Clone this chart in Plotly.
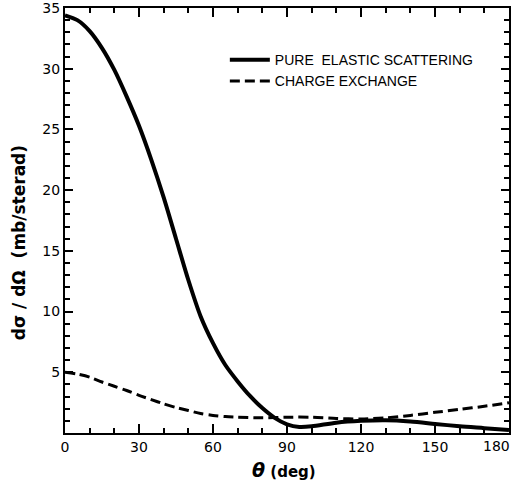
import plotly.graph_objects as go

theta_elastic = [0, 5, 10, 15, 20, 25, 30, 35, 40, 45, 50, 55, 60, 65, 70, 75, 80, 85, 90, 95, 100, 110, 120, 130, 140, 150, 160, 170, 180]
elastic = [34.4, 34.0, 33.1, 31.7, 29.9, 27.7, 25.3, 22.5, 19.4, 16.0, 12.6, 9.6, 7.4, 5.6, 4.25, 3.05, 2.05, 1.25, 0.72, 0.5, 0.55, 0.85, 1.0, 1.05, 0.95, 0.75, 0.55, 0.4, 0.25]

theta_cex = [0, 5, 10, 15, 20, 25, 30, 35, 40, 45, 50, 55, 60, 65, 70, 80, 90, 100, 110, 120, 130, 140, 150, 160, 170, 180]
cex = [5.0, 4.85, 4.6, 4.2, 3.85, 3.5, 3.1, 2.75, 2.4, 2.1, 1.85, 1.6, 1.45, 1.35, 1.3, 1.25, 1.3, 1.3, 1.2, 1.15, 1.25, 1.45, 1.7, 1.95, 2.2, 2.5]

x_ticks = [0, 30, 60, 90, 120, 150, 180]
x_tick_labels = ["0", "30", "60", "90", "120", "150", "180"]
y_ticks = [5, 10, 15, 20, 25, 30, 35]
y_tick_labels = ["5", "10", "15", "20", "25", "30", "35"]

tick_font = dict(family="DejaVu Sans", size=14, color="black")

fig = go.Figure()
fig.add_trace(go.Scatter(x=theta_elastic, y=elastic, mode="lines", name="PURE  ELASTIC SCATTERING",
                         line=dict(color="black", width=4, shape="spline", smoothing=0.8)))
fig.add_trace(go.Scatter(x=theta_cex, y=cex, mode="lines", name="CHARGE EXCHANGE",
                         line=dict(color="black", width=3, shape="spline", smoothing=0.8, dash="10px,5px")))

axis_common = dict(showgrid=False, zeroline=False, showline=True, linecolor="black", linewidth=2,
                   mirror="allticks", ticks="inside", tickcolor="black", tickwidth=2,
                   ticklabeloverflow="allow", automargin=False, tickfont=tick_font)

# the last x label sits against the right edge, so it is drawn right-aligned at its tick
fig.update_xaxes(range=[0, 180], tickvals=x_ticks, ticktext=x_tick_labels[:-1] + [""], ticklen=9,
                 minor=dict(dtick=10, ticks="inside", ticklen=5, tickwidth=2, tickcolor="black"),
                 **axis_common)
fig.update_yaxes(range=[0, 35], tickvals=y_ticks, ticktext=y_tick_labels, ticklen=8,
                 minor=dict(dtick=1, ticks="inside", ticklen=5, tickwidth=2, tickcolor="black"),
                 **axis_common)

fig.add_annotation(text=x_tick_labels[-1], xref="x", yref="paper", x=x_ticks[-1], y=-0.031,
                   xanchor="right", yanchor="middle", xshift=3, showarrow=False, font=tick_font)

fig.add_annotation(text="<b>dσ / dΩ  (mb/sterad)</b>", xref="paper", yref="paper",
                   x=-0.103, y=0.447, xanchor="center", yanchor="middle", textangle=-90, showarrow=False,
                   font=dict(family="DejaVu Sans", size=17, color="black"))
fig.add_annotation(text="<b><i><span style='font-size:19px'>θ</span></i> (deg)</b>", xref="paper", yref="paper",
                   x=0.494, y=-0.087, xanchor="center", yanchor="middle", showarrow=False,
                   font=dict(family="DejaVu Sans", size=15, color="black"))

fig.update_layout(
    width=513, height=481,
    margin=dict(l=65, r=4, t=8, b=48, autoexpand=False),
    paper_bgcolor="white", plot_bgcolor="white",
    showlegend=True,
    legend=dict(x=0.36, y=0.915, xanchor="left", yanchor="top", bgcolor="rgba(0,0,0,0)",
                font=dict(family="Liberation Sans", size=14, color="black"),
                tracegroupgap=0, itemwidth=40),
)

fig.write_html("out.html", config={"displayModeBar": False},
               post_script="document.body.style.margin='0px';document.body.style.overflow='hidden';")
